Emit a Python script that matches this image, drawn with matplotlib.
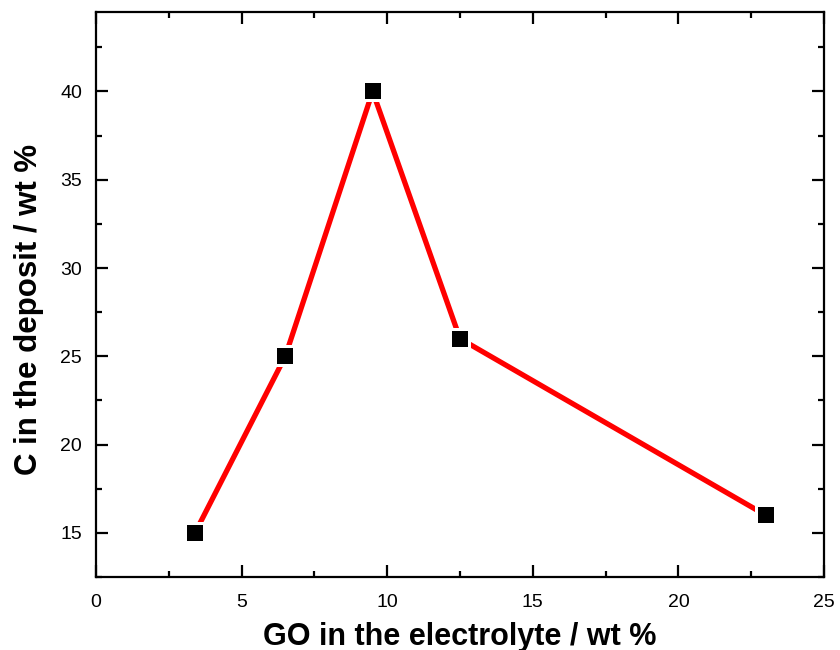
import matplotlib
matplotlib.use("Agg")
import matplotlib.pyplot as plt
from matplotlib.ticker import MultipleLocator

go_wt = [3.4, 6.5, 9.5, 12.5, 23.0]
c_wt = [15, 25, 40, 26, 16]
xlabel = "GO in the electrolyte / wt %"
ylabel = "C in the deposit / wt %"

plt.rcParams['font.family'] = ['Liberation Sans', 'DejaVu Sans']

fig = plt.figure(figsize=(8.4, 6.5), dpi=100)
ax = fig.add_axes([96/840, 1-577/650, (824-96)/840, (577-12)/650])

ax.plot(go_wt, c_wt, color='#ff0000', lw=3.8, solid_capstyle='butt', zorder=2)
ax.plot(go_wt, c_wt, ls='none', marker='s', markersize=16.5,
        markerfacecolor='white', markeredgewidth=0, zorder=3)
ax.plot(go_wt, c_wt, ls='none', marker='s', markersize=12,
        markerfacecolor='black', markeredgewidth=0, zorder=4)

ax.set_xlim(0, 25)
ax.set_ylim(12.5, 44.5)
ax.xaxis.set_major_locator(MultipleLocator(5))
ax.xaxis.set_minor_locator(MultipleLocator(2.5))
ax.yaxis.set_major_locator(MultipleLocator(5))
ax.yaxis.set_minor_locator(MultipleLocator(2.5))
ax.tick_params(which='both', direction='in', top=True, right=True, width=1.6)
ax.tick_params(which='major', length=8.5, labelsize=14)
ax.tick_params(axis='x', which='major', pad=12)
ax.tick_params(axis='y', which='major', pad=10)
ax.tick_params(which='minor', length=4.5)
for s in ax.spines.values():
    s.set_linewidth(1.6)

ax.set_xlabel(xlabel, fontsize=22, fontweight='bold')
ax.set_ylabel(ylabel, fontsize=22.5, fontweight='bold')
ax.xaxis.set_label_coords(0.5, -0.079)
ax.yaxis.set_label_coords(-0.072, 0.473)

fig.savefig("out.png", dpi=100)
